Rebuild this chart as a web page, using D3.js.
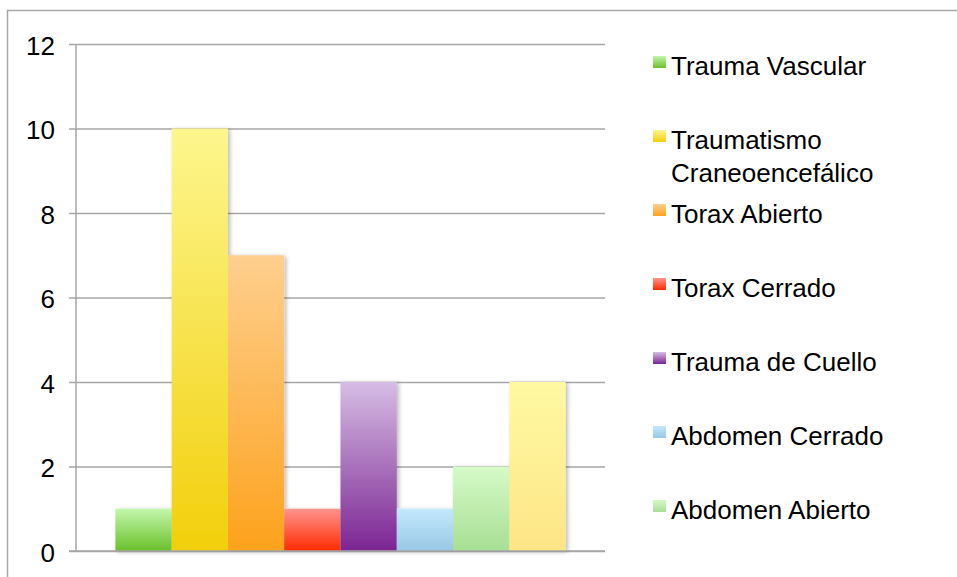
<!DOCTYPE html>
<html>
<head>
<meta charset="utf-8">
<script src="https://cdn.jsdelivr.net/npm/d3@7"></script>
<style>
  body { margin: 0; background: #fff; }
  svg { display: block; font-family: "Liberation Sans", Arial, Helvetica, sans-serif; }
</style>
</head>
<body>
<svg id="chart" width="957" height="577"></svg>
<script>
// data
var seriesNames = ["Trauma Vascular", "Traumatismo Craneoencefálico", "Torax Abierto",
  "Torax Cerrado", "Trauma de Cuello", "Abdomen Cerrado", "Abdomen Abierto"];
var barKeys = ["s1", "s2", "s3", "s4", "s5", "s6", "s7", "s8"];
var barValues = [1, 10, 7, 1, 4, 1, 2, 4];
var yTicks = [0, 2, 4, 6, 8, 10, 12];
// gradient top / bottom for each bar
var colorTop = ["#c2f7ab", "#fdf68e", "#fecf8e", "#ff948e", "#d6bde4", "#c3e8fc", "#d6fac8", "#fff9a2"];
var colorBottom = ["#69c02a", "#f2cf0b", "#fda21c", "#ff2a00", "#7b2592", "#98c8e6", "#a7df94", "#fde586"];

var svg = d3.select("#chart");
var plotL = 76, plotR = 605, plotT = 44, plotB = 551;

// outer frame (only top + left edges fall inside the picture)
svg.append("path")
  .attr("d", "M7.5,577V10.5H957")
  .attr("fill", "none").attr("stroke", "#a8a8a8").attr("stroke-width", 1.5);

var defs = svg.append("defs");
colorTop.forEach(function (c, i) {
  var g = defs.append("linearGradient").attr("id", "grad" + i)
    .attr("x1", 0).attr("y1", 0).attr("x2", 0).attr("y2", 1);
  g.append("stop").attr("offset", "0%").attr("stop-color", c);
  g.append("stop").attr("offset", "100%").attr("stop-color", colorBottom[i]);
});
var f = defs.append("filter").attr("id", "shadow")
  .attr("x", "-20%").attr("y", "-20%").attr("width", "150%").attr("height", "150%");
f.append("feDropShadow").attr("dx", 2).attr("dy", 1).attr("stdDeviation", 2)
  .attr("flood-color", "#000").attr("flood-opacity", 0.28);

var y = d3.scaleLinear().domain([0, 12]).range([plotB, plotT]);
var x = d3.scaleBand().domain(barKeys).range([plotL, plotR]).paddingInner(0).paddingOuter(0.7);

// grid + ticks
var yAxis = d3.axisLeft(y).tickValues(yTicks).tickSize(plotR - plotL + 7).tickPadding(14)
  .tickFormat(d3.format("d"));
var ga = svg.append("g").attr("transform", "translate(" + plotR + ",0)").call(yAxis);
ga.select(".domain").remove();
ga.selectAll(".tick line").attr("stroke", "#a6a6a6").attr("stroke-width", 1.5);
ga.selectAll(".tick text").attr("font-size", 26).attr("fill", "#000")
  .attr("dy", "0.40em").attr("x", -(plotR - 55));

svg.append("line").attr("x1", plotL).attr("x2", plotL).attr("y1", plotT).attr("y2", plotB)
  .attr("stroke", "#a6a6a6").attr("stroke-width", 1.5);

// bars
svg.append("g").attr("filter", "url(#shadow)")
  .selectAll("rect").data(barValues).join("rect")
  .attr("x", function (d, i) { return x(barKeys[i]); })
  .attr("width", x.bandwidth())
  .attr("y", function (d) { return y(d); })
  .attr("height", function (d) { return y(0) - y(d); })
  .attr("fill", function (d, i) { return "url(#grad" + i + ")"; });

// x axis line over the bars
svg.append("line").attr("x1", plotL - 7).attr("x2", plotR).attr("y1", plotB).attr("y2", plotB)
  .attr("stroke", "#a6a6a6").attr("stroke-width", 1.5);

// legend
var legX = 653, legY = 75, legStep = 74, lineH = 33, maxW = 260;
var leg = svg.append("g").selectAll("g").data(seriesNames).join("g")
  .attr("transform", function (d, i) { return "translate(" + legX + "," + (legY + i * legStep) + ")"; });
leg.append("rect").attr("x", 0).attr("y", -19).attr("width", 13).attr("height", 12)
  .attr("fill", function (d, i) { return "url(#grad" + i + ")"; });
leg.append("text").attr("x", 18).attr("y", 0).attr("font-size", 26).attr("fill", "#000")
  .each(function (d) {
    var t = d3.select(this), words = d.split(" "), line = [], n = 0;
    var ts = t.append("tspan").attr("x", 18).attr("y", 0);
    words.forEach(function (w) {
      line.push(w);
      ts.text(line.join(" "));
      if (ts.node().getComputedTextLength() > maxW && line.length > 1) {
        line.pop();
        ts.text(line.join(" "));
        line = [w];
        n++;
        ts = t.append("tspan").attr("x", 18).attr("y", n * lineH).text(w);
      }
    });
  });
</script>
</body>
</html>
